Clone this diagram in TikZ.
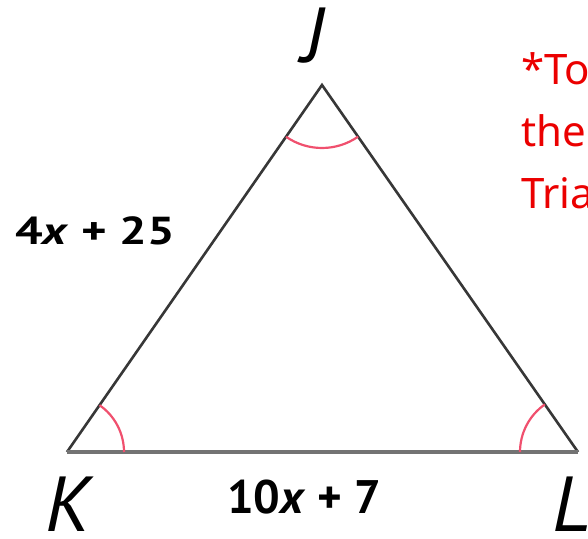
\documentclass[tikz,border=0pt]{standalone}
\usepackage{fontspec}
\usepackage{graphicx}
\setmainfont{PT Sans}
\newfontfamily\notefont{Noto Sans}
\usetikzlibrary{angles}
\definecolor{sidegray}{RGB}{55,55,55}
\definecolor{basegray}{RGB}{115,115,115}
\definecolor{angpink}{RGB}{240,80,110}
\definecolor{notered}{RGB}{235,0,0}

\begin{document}
\begin{tikzpicture}[x=1pt, y=1pt,
    side/.style={draw=sidegray, line width=2.6pt, line join=miter},
    base/.style={draw=basegray, line width=3.6pt},
    angmark/.style={draw=angpink, line width=2.2pt, angle radius=#1},
    vlabel/.style={font=\fontsize{78}{78}\selectfont\itshape, inner sep=0pt, anchor=base},
    lenlabel/.style={font=\fontsize{#1}{#1}\selectfont\bfseries, inner sep=0pt, anchor=base},
    note/.style={font=\notefont\fontsize{42}{62}\selectfont, text=notered, inner sep=0pt, anchor=base west}
]
  \clip (0,0) rectangle (588,538);
  \coordinate (K) at (67,86);
  \coordinate (J) at (322,453);
  \coordinate (L) at (578,86);
  % triangle
  \draw[side] (K) -- (J) -- (L);
  \draw[base] (K) -- (L);
  % angle marks
  \pic[angmark=57pt] {angle=L--K--J};
  \pic[angmark=58pt] {angle=J--L--K};
  \pic[angmark=63pt] {angle=K--J--L};
  % labels
  \node[vlabel] (labJ) at (313,475) {J};
  \node[vlabel] (labK) at (68,7) {K};
  \node[vlabel, anchor=base west] (labL) at (552,7) {L};
  \node[lenlabel=39] (sideKJ) at (95,293) {\scalebox{1.25}[1]{4\textit{x} + 25}};
  \node[lenlabel=47] (sideKL) at (304,25) {10\textit{x} + 7};
  % note, cut off at the edge
  \foreach \txt [count=\i] in {*To, the, Tria}
    \node[note] (note\i) at (521,515-62*\i) {\txt};
\end{tikzpicture}
\end{document}
